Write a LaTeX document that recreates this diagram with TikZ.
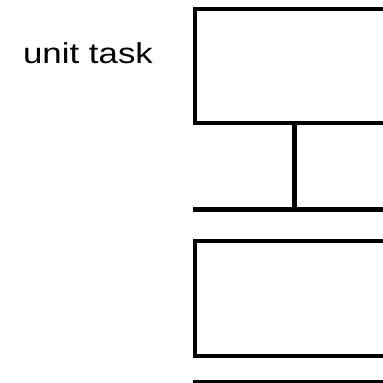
\documentclass[tikz,border=0pt]{standalone}
\usepackage{fontspec}
\setmainfont{Liberation Sans}
\begin{document}
\begin{tikzpicture}[x=1pt,y=1pt,
  box/.style={draw, line width=4pt, rectangle, inner sep=0pt, minimum width=205pt},
  bar/.style={line width=5pt},
  thinbar/.style={line width=4pt},
  lbl/.style={anchor=base, inner sep=0pt, font=\fontsize{28.8}{30}\selectfont}]
\useasboundingbox (0,0) rectangle (383,383);
\clip (0,0) rectangle (383,383);
\fill[white] (0,0) rectangle (383,383);
\node[lbl] (label) at (88,319.7) {\scalebox{1.21}[1]{unit task}};
\node[box, minimum height=114pt] (ut) at (297.5,317) {};
\node[box, minimum height=115pt] (sub) at (297.5,84.5) {};
\coordinate (j) at (294.5,173.5);
\coordinate (bl) at (193,173.5);
\coordinate (br) at (400,173.5);
\coordinate (b1) at (193,1);
\coordinate (b2) at (400,1);
\draw[bar] (ut.south -| j) -- (j);
\draw[bar] (bl) -- (br);
\draw[thinbar] (b1) -- (b2);
\end{tikzpicture}
\end{document}
